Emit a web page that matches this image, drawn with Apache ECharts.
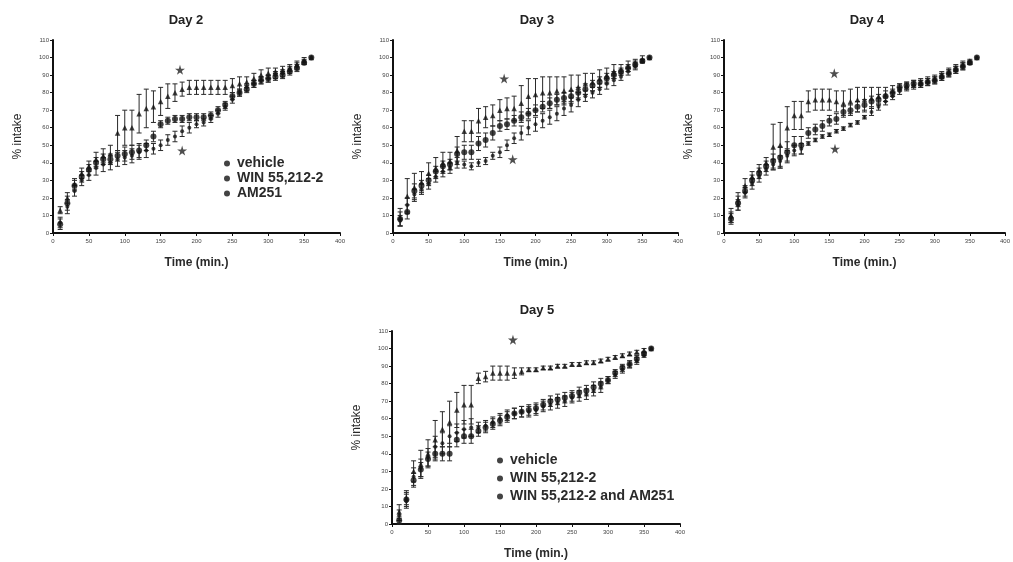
<!DOCTYPE html>
<html><head><meta charset="utf-8">
<script src="https://cdn.jsdelivr.net/npm/echarts@6/dist/echarts.min.js"></script>
<style>html,body{margin:0;padding:0;background:#fff}#c{width:1013px;height:562px}</style>
</head><body><div id="c"></div>
<script>
const times = [10,20,30,40,50,60,70,80,90,100,110,120,130,140,150,160,170,180,190,200,210,220,230,240,250,260,270,280,290,300,310,320,330,340,350,360];
const xTicks = [0,50,100,150,200,250,300,350,400];
const yTicks = [0,10,20,30,40,50,60,70,80,90,100,110];
const panelTitles = ['Day 2','Day 3','Day 4','Day 5'];

// Day 2
const d2Vehicle = [5,17,27,32,36,40,42,42,44,45,46,47,50,55,62,64,65,65,66,66,66,67,70,73,78,80,82,85,87,88,89,90,92,94,97,100];
const d2VehicleErr = [3,4,3,3,3,3,3,3,3,4,4,4,3,3,2,2,2,2,2,2,2,2,2,2,2,2,2,2,2,2,2,2,2,2,1,0];
const d2Win = [13,20,28,34,38,42,44,45,57,60,60,68,71,72,75,78,80,82,83,83,83,83,83,83,84,85,86,88,90,91,92,93,94,96,98,100];
const d2WinErr = [2,3,3,3,3,4,4,5,10,10,10,11,11,9,8,7,5,4,4,4,4,4,4,4,4,4,3,3,3,3,2,2,2,2,2,0];
const d2Am = [6,15,24,30,33,37,39,40,42,43,44,46,47,48,50,53,55,58,60,62,63,65,68,72,76,80,83,85,87,88,90,91,93,95,98,100];
const d2AmErr = [3,4,3,3,3,4,4,4,4,4,4,4,4,3,3,3,3,3,3,2,2,2,2,2,2,2,2,2,2,2,2,2,2,2,1,0];
const d2Stars = [[177,93],[180,47]];

// Day 3
const d3Vehicle = [8,12,24,27,30,35,38,39,45,46,46,51,53,57,61,62,64,66,68,70,72,74,76,77,78,80,82,84,86,88,90,92,94,96,98,100];
const d3VehicleErr = [4,4,4,3,3,3,3,3,4,4,4,4,4,4,3,3,3,3,3,3,3,3,3,3,3,3,3,3,3,3,2,2,2,2,1,0];
const d3Win = [9,21,26,29,34,37,40,41,47,58,58,64,66,67,70,71,71,74,78,79,80,80,81,81,82,83,85,86,88,90,92,93,95,97,99,100];
const d3WinErr = [5,10,8,6,6,6,6,5,8,6,6,7,6,6,6,6,7,10,10,9,9,9,8,8,8,7,6,5,5,4,4,3,3,2,2,0];
const d3Am = [7,16,22,25,28,32,35,37,40,39,38,40,41,44,46,50,54,57,60,62,64,66,68,71,73,76,78,80,82,85,87,89,92,95,98,100];
const d3AmErr = [3,4,3,3,3,3,3,3,3,2,2,2,2,2,3,3,3,4,4,4,4,4,4,4,4,4,3,3,3,3,3,2,2,2,1,0];
const d3Stars = [[156,88],[168,42]];

// Day 4
const d4Vehicle = [8,17,24,30,34,38,41,43,46,50,50,57,59,61,64,65,69,70,72,73,75,76,78,80,83,84,85,85,86,87,89,91,93,95,97,100];
const d4VehicleErr = [3,4,3,3,3,3,4,6,6,5,5,3,3,3,3,3,3,3,3,3,3,3,3,2,2,2,2,2,2,2,2,2,2,2,1,0];
const d4Win = [10,19,27,32,36,40,49,50,60,67,67,75,76,76,76,75,74,75,76,76,77,78,79,81,83,84,85,86,87,88,90,92,94,96,98,100];
const d4WinErr = [4,4,4,3,3,3,13,13,12,8,8,6,6,6,6,6,7,7,7,7,6,5,4,3,2,2,2,2,2,2,2,2,2,2,1,0];
const d4Am = [9,16,23,28,32,36,39,41,44,47,48,51,53,55,56,58,59.5,61.5,63,66,69,72,75,78,81,83,84,85,86,87,89,91,93,95,97,100];
const d4AmErr = [3,3,3,3,3,3,3,3,3,3,3,1,1,1,1,1,1,1,1,1,2,2,2,2,2,2,2,2,2,2,2,2,2,2,1,0];
const d4Stars = [[157,91],[158,48]];

// Day 5
const d5Vehicle = [2,14,25,31,37,40,40,40,48,50,50,53,55,57,59,61,63,64,65,66,68,70,71,72,73,75,76,78,80,82,86,89,91,94,97,100];
const d5VehicleErr = [2,4,4,4,4,4,4,4,4,4,4,3,3,3,3,3,3,3,3,3,3,3,3,3,3,3,3,3,3,2,2,2,2,2,1,0];
const d5Win = [7,15,30,34,40,48,54,58,65,68,68,83,84,86,86,86,86,87,88,88,89,89,90,90,91,91,92,92,93,94,95,96,97,98,99,100];
const d5WinErr = [4,4,6,8,8,11,10,12,10,11,11,3,3,4,4,4,3,2,1,1,1,1,1,1,1,1,1,1,1,1,1,1,1,1,1,0];
const d5WinAm = [5,13,27,32,38,44,46,50,52,54,55,55,56,58,60,62,63,64,64,65,67,68,69,70,72,73,74,76,78,82,85,88,91,93,96,100];
const d5WinAmErr = [3,4,5,5,5,6,6,6,5,5,5,3,3,3,3,3,3,3,3,3,3,3,3,3,3,3,3,3,3,2,2,2,2,2,1,0];
const d5Stars = [[168,105]];

const legendDay2 = ['vehicle','WIN 55,212-2','AM251'];
const legendDay5 = ['vehicle','WIN 55,212-2','WIN 55,212-2 and AM251'];

const grids = [
  {left:53, top:40, width:287, height:193},
  {left:393, top:40, width:285, height:193},
  {left:724, top:40, width:287, height:193},
  {left:392, top:331, width:288, height:193}
];
const titlePos = [[186,20],[537,20],[867,20],[537,310]];

const panels = [
  {series:[[legendDay2[0],d2Vehicle,d2VehicleErr],[legendDay2[1],d2Win,d2WinErr],[legendDay2[2],d2Am,d2AmErr]], stars:d2Stars},
  {series:[[legendDay2[0],d3Vehicle,d3VehicleErr],[legendDay2[1],d3Win,d3WinErr],[legendDay2[2],d3Am,d3AmErr]], stars:d3Stars},
  {series:[[legendDay2[0],d4Vehicle,d4VehicleErr],[legendDay2[1],d4Win,d4WinErr],[legendDay2[2],d4Am,d4AmErr]], stars:d4Stars},
  {series:[[legendDay5[0],d5Vehicle,d5VehicleErr],[legendDay5[1],d5Win,d5WinErr],[legendDay5[2],d5WinAm,d5WinAmErr]], stars:d5Stars}
];

const symbols = [['circle',6],['triangle',5.5],['circle',4]];
const ink = '#141414';
const STAR = 'path://M50,0 L61,35 L98,35 L68,57 L79,91 L50,70 L21,91 L32,57 L2,35 L39,35 Z';

function renderErr(params, api){
  const x = api.value(0), lo = api.value(1), hi = api.value(2);
  if (hi - lo < 0.01) return null;
  const a = api.coord([x, lo]), b = api.coord([x, hi]);
  const w = 2.5;
  const st = {stroke:'#2a2a2a', lineWidth:1};
  return {type:'group', children:[
    {type:'line', shape:{x1:a[0],y1:a[1],x2:b[0],y2:b[1]}, style:st},
    {type:'line', shape:{x1:a[0]-w,y1:a[1],x2:a[0]+w,y2:a[1]}, style:st},
    {type:'line', shape:{x1:b[0]-w,y1:b[1],x2:b[0]+w,y2:b[1]}, style:st}
  ]};
}

const xAxis = [], yAxis = [], series = [];
grids.forEach((g,i)=>{
  xAxis.push({type:'value', gridIndex:i, min:xTicks[0], max:xTicks[xTicks.length-1], interval:xTicks[1]-xTicks[0],
    name:'Time (min.)', nameLocation:'middle', nameGap:24,
    nameTextStyle:{fontSize:12, fontWeight:'bold', color:'#2a2a2a', fontFamily:'Liberation Sans'},
    axisLine:{lineStyle:{color:'#111', width:2}}, axisTick:{length:3, lineStyle:{color:'#111', width:1}},
    axisLabel:{fontSize:6, color:'#444', margin:5, fontFamily:'Liberation Sans'}, splitLine:{show:false}});
  yAxis.push({type:'value', gridIndex:i, min:yTicks[0], max:yTicks[yTicks.length-1], interval:yTicks[1]-yTicks[0],
    name:'% intake', nameLocation:'middle', nameGap:29, nameRotate:90,
    nameTextStyle:{fontSize:12, color:'#2a2a2a', fontFamily:'Liberation Sans'},
    axisLine:{show:true, lineStyle:{color:'#111', width:2}}, axisTick:{show:true, length:3, lineStyle:{color:'#111', width:1}},
    axisLabel:{fontSize:6, color:'#444', margin:4, fontFamily:'Liberation Sans'}, splitLine:{show:false}});
  const p = panels[i];
  p.series.forEach((s,k)=>{
    const [name, vals, errs] = s;
    series.push({type:'custom', name:'err', xAxisIndex:i, yAxisIndex:i, renderItem:renderErr,
      data: times.map((t,j)=>[t, vals[j]-errs[j], vals[j]+errs[j]]), z:2, silent:true});
  });
  p.series.forEach((s,k)=>{
    const [name, vals] = s;
    series.push({type:'scatter', name:name, xAxisIndex:i, yAxisIndex:i, symbol:symbols[k][0], symbolSize:symbols[k][1],
      itemStyle:{color:ink}, data: times.map((t,j)=>[t, vals[j]]), z:3, silent:true});
  });
  series.push({type:'scatter', name:'star', xAxisIndex:i, yAxisIndex:i, symbol:STAR, symbolSize:10,
    itemStyle:{color:'#222'}, data:p.stars, z:4, silent:true});
});

const legendCommon = {orient:'vertical', itemWidth:6, itemHeight:6, itemGap:0, selectedMode:false,
  textStyle:{fontSize:14, fontWeight:'bold', color:'#2a2a2a', fontFamily:'Liberation Sans', lineHeight:15, padding:[0,0,0,2]}};
const legend = [
  Object.assign({}, legendCommon, {data:legendDay2.map(n=>({name:n, icon:'circle'})), left:219, top:151}),
  Object.assign({}, legendCommon, {data:legendDay5.map(n=>({name:n, icon:'circle'})), left:492, top:448, itemGap:3})
];

const graphic = panelTitles.map((t,i)=>({type:'text', x:titlePos[i][0], y:titlePos[i][1],
  style:{text:t, fontSize:13, fontWeight:'bold', fill:'#222', fontFamily:'Liberation Sans', textAlign:'center', textVerticalAlign:'middle'}}));

const chart = echarts.init(document.getElementById('c'), null, {renderer:'canvas'});
chart.setOption({animation:false, backgroundColor:'#fff', grid:grids, xAxis, yAxis, series, legend, graphic});
</script></body></html>
